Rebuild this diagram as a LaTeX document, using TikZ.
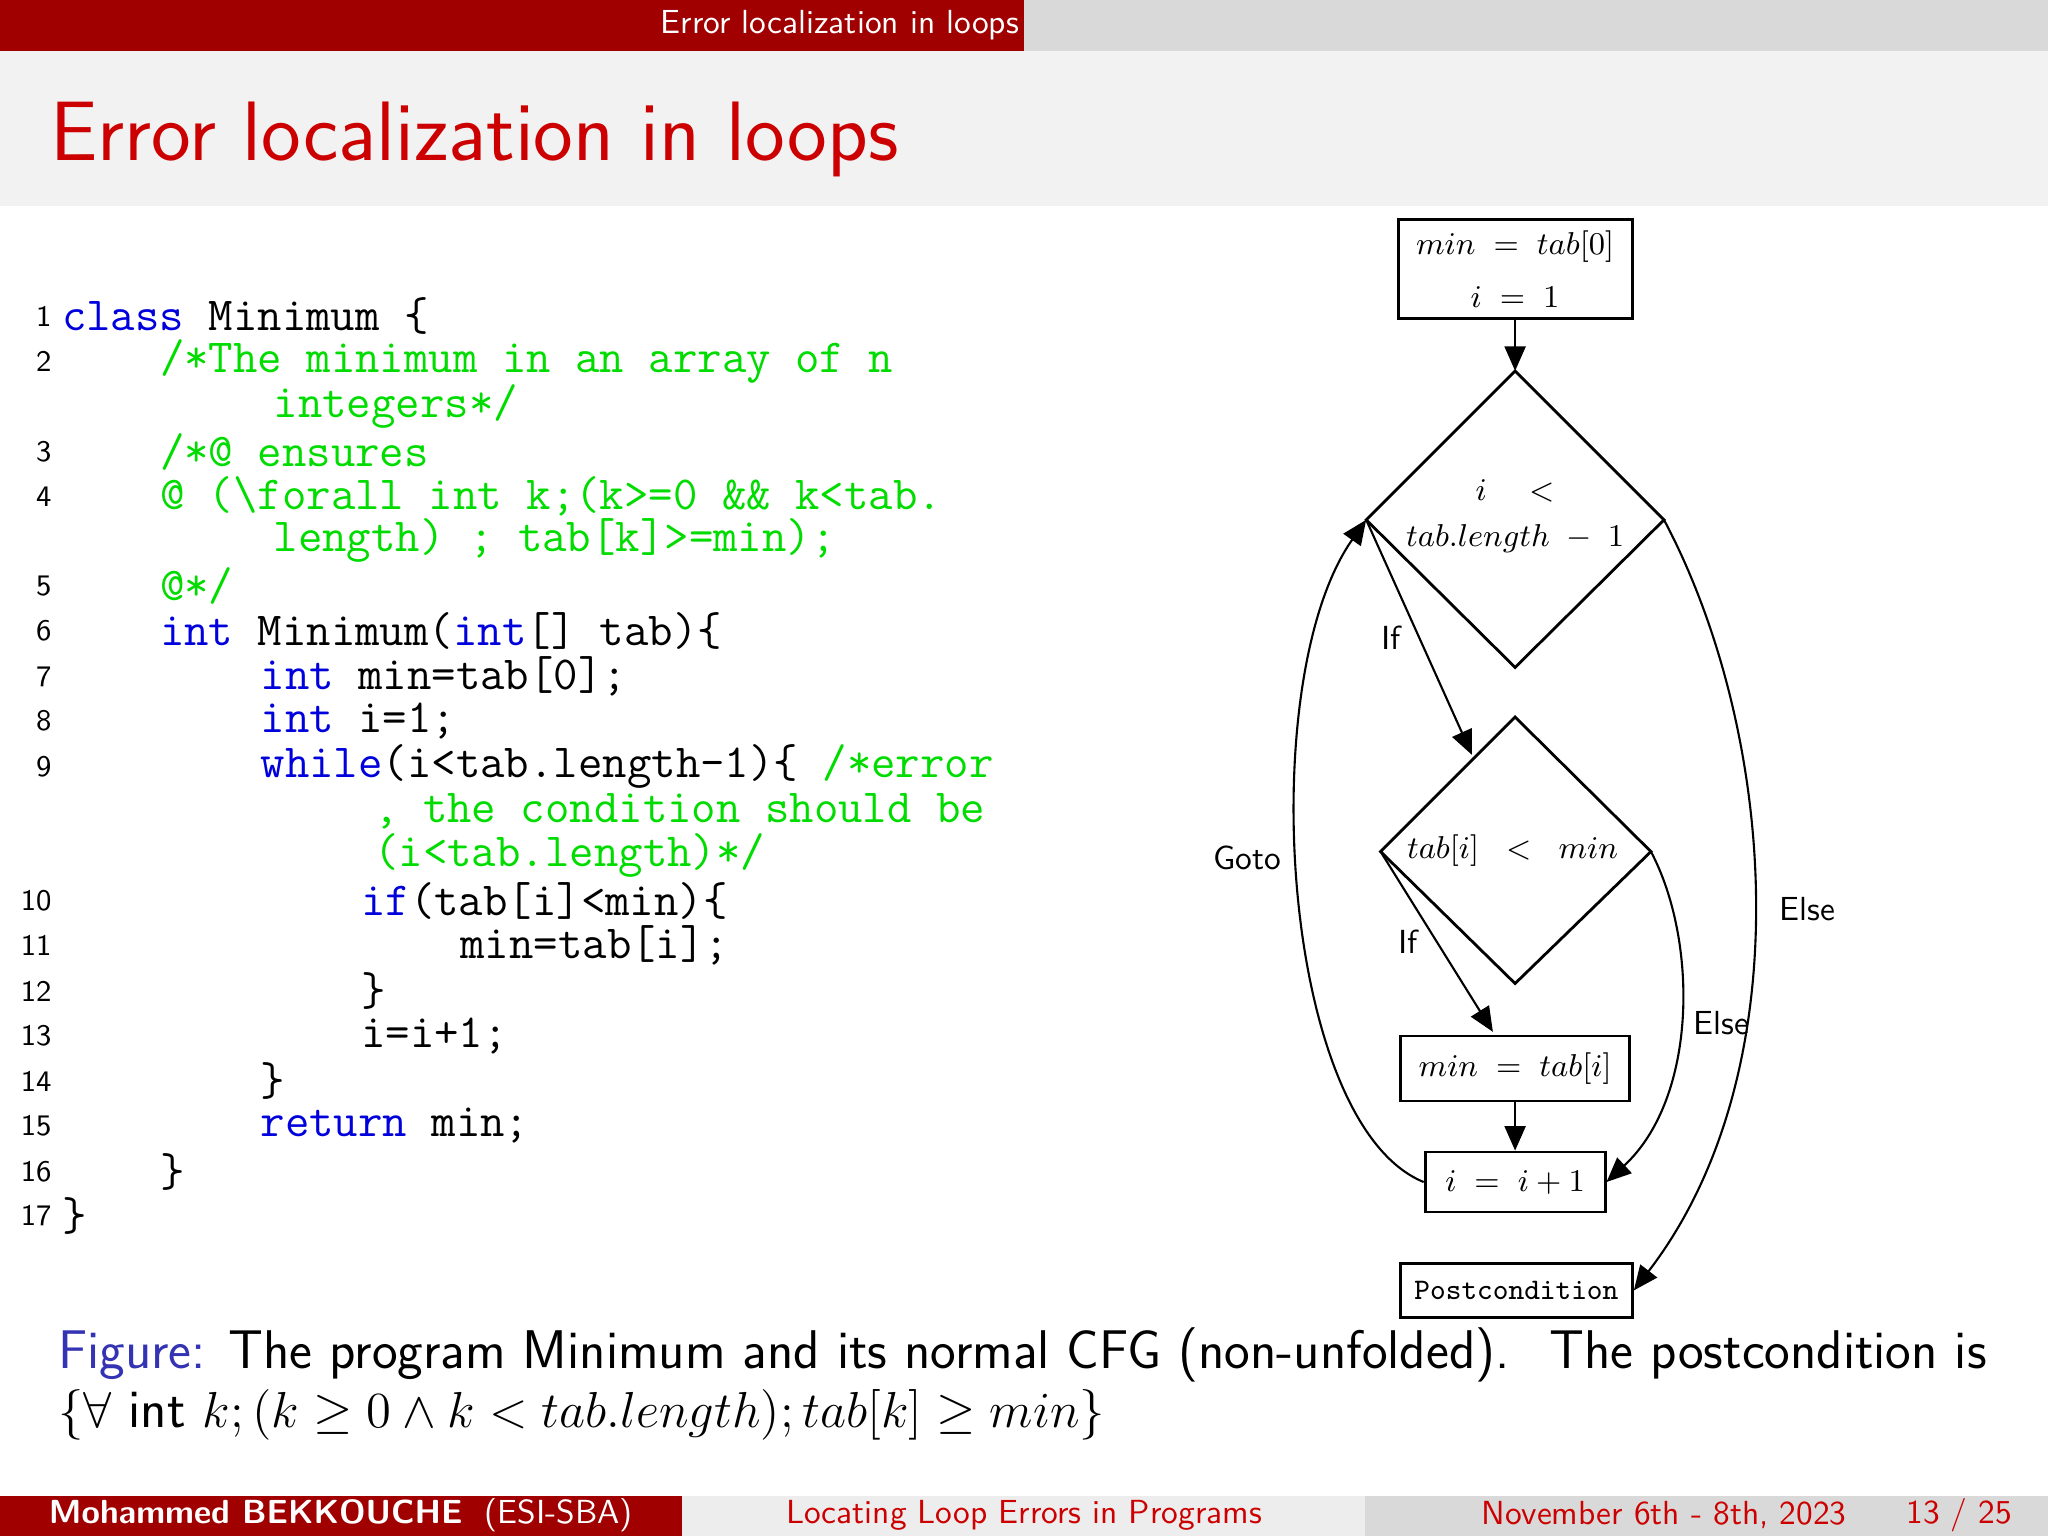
\documentclass[tikz,border=0pt]{standalone}
\usetikzlibrary{arrows.meta,shapes.geometric}
\definecolor{bred}{RGB}{160,0,0}
\definecolor{tred}{RGB}{204,0,0}
\definecolor{kw}{RGB}{0,0,220}
\definecolor{cm}{RGB}{0,220,0}
\definecolor{fblue}{RGB}{51,51,179}
\definecolor{lg}{RGB}{242,242,242}
\definecolor{mg}{RGB}{217,217,217}
\newcommand{\K}[1]{\textcolor{kw}{#1}}
\newcommand{\C}[1]{\textcolor{cm}{#1}}
\begin{document}
\begin{tikzpicture}[x=0.01306cm,y=-0.01306cm,
  code/.style={anchor=west,inner sep=0pt,font=\fontsize{13.5}{15}\ttfamily},
  lnum/.style={anchor=east,inner sep=0pt,font=\fontsize{8.5}{10}\sffamily},
  box/.style={draw,thick,inner sep=0pt,font=\fontsize{9.5}{12}\selectfont},
  arr/.style={-{Triangle[length=7pt,width=6pt]},semithick},
  lab/.style={font=\fontsize{9.5}{11}\sffamily},
  bar/.style={font=\fontsize{9.5}{11}\sffamily}]
\useasboundingbox (0,0) rectangle (1568,1176);
% header
\fill[bred] (0,0) rectangle (784,39);
\fill[mg] (784,0) rectangle (1568,39);
\node[text=white,bar] (ht) at (643,19) {Error localization in loops};
\fill[lg] (0,39) rectangle (1568,158);
\node[anchor=west,text=tred,font=\fontsize{24}{28}\sffamily,inner sep=0pt] (title) at (38,107) {Error localization in loops};
% code
\foreach \y/\n in {242/1,277/2,346/3,380/4,449/5,483/6,518/7,552/8,587/9,690/10,724/11,759/12,793/13,828/14,862/15,897/16,931/17}
  \node[lnum] (n\n) at (40,\y) {\n};
\node[code] (c1) at (47,242) {\K{class}~Minimum~\{};
\node[code] (c2) at (122,277) {\C{/*The~minimum~in~an~array~of~n}};
\node[code] (c2b) at (209,311) {\C{integers*/}};
\node[code] (c3) at (122,346) {\C{/*@~ensures}};
\node[code] (c4) at (122,380) {\C{@~(\textbackslash forall~int~k;(k>=0~\&\&~k<tab.}};
\node[code] (c4b) at (209,414) {\C{length)~;~tab[k]>=min);}};
\node[code] (c5) at (122,449) {\C{@*/}};
\node[code] (c6) at (122,483) {\K{int}~Minimum(\K{int}[]~tab)\{};
\node[code] (c7) at (199,518) {\K{int}~min=tab[0];};
\node[code] (c8) at (199,552) {\K{int}~i=1;};
\node[code] (c9) at (199,587) {\K{while}(i<tab.length-1)\{~\C{/*error}};
\node[code] (c9b) at (286,621) {\C{,~the~condition~should~be}};
\node[code] (c9c) at (286,655) {\C{(i<tab.length)*/}};
\node[code] (c10) at (276,690) {\K{if}(tab[i]<min)\{};
\node[code] (c11) at (352,724) {min=tab[i];};
\node[code] (c12) at (276,759) {\}};
\node[code] (c13) at (276,793) {i=i+1;};
\node[code] (c14) at (199,828) {\}};
\node[code] (c15) at (199,862) {\K{return}~min;};
\node[code] (c16) at (122,897) {\}};
\node[code] (c17) at (47,931) {\}};
% flowchart
\node[box,minimum width=2.34cm,minimum height=0.99cm,align=center] (b1) at (1160,206) {$min\;=\;tab[0]$\\[3pt]$i\;=\;1$};
\draw[thick] (1160,284) coordinate (d1t) -- (1274,398) coordinate (d1r) -- (1160,511) coordinate (d1b) -- (1046,398) coordinate (d1l) -- cycle;
\node[font=\fontsize{9.5}{13}\selectfont,align=center] (d1) at (1160,395) {$i\quad<$\\$tab.length\;-\;1$};
\draw[thick] (1160,549) coordinate (d2t) -- (1264,652) coordinate (d2r) -- (1160,753) coordinate (d2b) -- (1057,652) coordinate (d2l) -- cycle;
\node[font=\fontsize{9.5}{12}\selectfont] (d2) at (1158,651) {$tab[i]\;\;<\;\;min$};
\node[box,minimum width=2.29cm,minimum height=0.65cm] (b2) at (1160,818) {$min\;=\;tab[i]$};
\node[box,minimum width=1.8cm,minimum height=0.6cm] (b3) at (1160,905) {$i\;=\;i+1$};
\node[box,minimum width=2.32cm,minimum height=0.54cm,font=\fontsize{8.5}{10}\ttfamily] (post) at (1161,988) {Postcondition};
\coordinate (d2tl) at (1127,578);
\coordinate (b2t) at (1143,790);
\draw[arr] (b1) -- (d1t);
\draw[arr] (d1l) -- (d2tl);
\draw[arr] (d2l) -- (b2t);
\draw[arr] (b2) -- (b3);
\draw[arr] (b3.west) .. controls (980,860) and (960,520) .. (d1l);
\draw[arr] (d2r) .. controls (1300,720) and (1300,840) .. (b3.east);
\draw[arr] (d1r) .. controls (1360,560) and (1380,820) .. (post.east);
\node[lab] (l1) at (1065,488) {If};
\node[lab] (l2) at (1078,721) {If};
\node[lab] (l3) at (955,657) {Goto};
\node[lab] (l4) at (1318,783) {Else};
\node[lab] (l5) at (1384,696) {Else};
% caption
\node[anchor=west,inner sep=0pt,font=\fontsize{15.5}{19}\sffamily] (cap1) at (44,1037) {\textcolor{fblue}{Figure:} The program Minimum and its normal CFG (non-unfolded). \ The postcondition is};
\node[anchor=west,inner sep=0pt,font=\fontsize{15.5}{19}\sffamily] (cap2) at (44,1083) {$\{\forall$ int $k;(k\geq 0\wedge k<tab.length);tab[k]\geq min\}$};
% footer
\fill[bred] (0,1145) rectangle (522,1176);
\fill[lg!80!mg] (522,1145) rectangle (1045,1176);
\fill[mg] (1045,1145) rectangle (1568,1176);
\node[text=white,bar] (f1) at (261,1160) {\textbf{Mohammed BEKKOUCHE}\ \ (ESI-SBA)};
\node[text=tred,bar] (f2) at (784,1160) {Locating Loop Errors in Programs};
\node[text=tred,bar] (f3) at (1274,1160) {November 6th - 8th, 2023};
\node[text=tred,bar,anchor=east] (f4) at (1550,1160) {13 / 25};
\end{tikzpicture}
\end{document}
